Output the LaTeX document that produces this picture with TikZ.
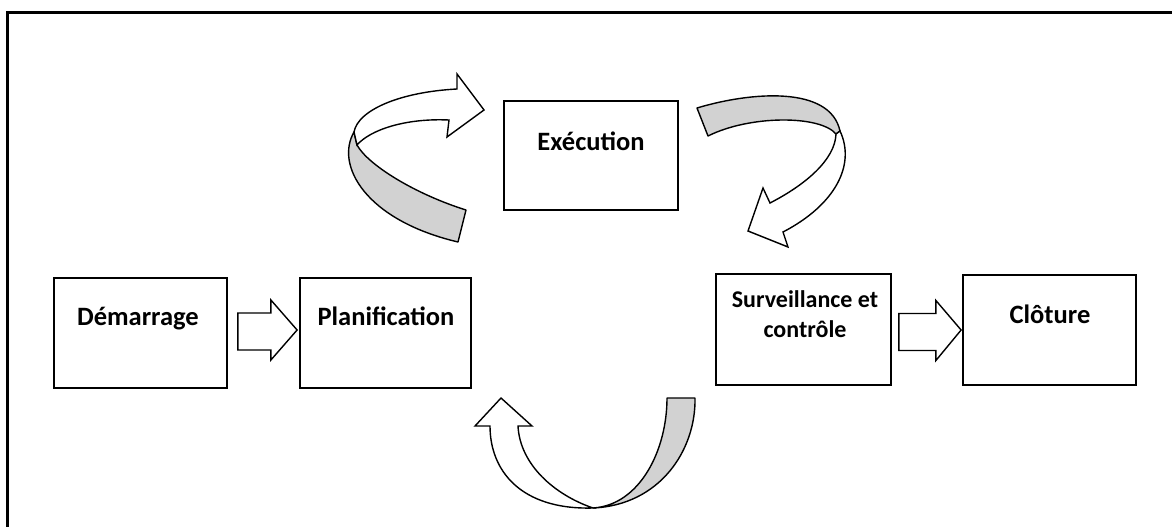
\documentclass[tikz,border=0pt]{standalone}
\usepackage{fontspec}
\setmainfont{Carlito}
\usetikzlibrary{calc}
\begin{document}
\begin{tikzpicture}[x=1pt,y=-1pt,
  box/.style={draw, line width=1.8pt, inner sep=0pt},
  lbl/.style={font=\fontsize{26.5}{30}\selectfont\bfseries, inner sep=0pt, anchor=base},
  smalllbl/.style={lbl, font=\fontsize{24}{30}\selectfont\bfseries},
  blockarrow/.style={draw, fill=white, line width=1.4pt, line join=miter},
  backband/.style={draw, fill=gray!35, line width=1.4pt, line join=round},
  frontband/.style={draw, fill=white, line width=1.4pt, line join=miter}]
\useasboundingbox (0,0) rectangle (1172,527);

% outer frame, running off the right and bottom edges
\draw[line width=2.5pt] (7.5,527) -- (7.5,12.5) -- (1172,12.5);

% process boxes
\node[box, minimum width=173pt, minimum height=110pt] (dem)  at (140.5,333)  {};
\node[box, minimum width=171pt, minimum height=110pt] (plan) at (385.5,333)  {};
\node[box, minimum width=174pt, minimum height=109pt] (exe)  at (591,155.5)  {};
\node[box, minimum width=175pt, minimum height=111pt] (surv) at (803.5,329.5) {};
\node[box, minimum width=173pt, minimum height=110pt] (clo)  at (1049.5,330) {};

% labels
\node[lbl] (demt)   at (138,325)   {Démarrage};
\node[lbl] (plant)  at (386,325)   {Planification};
\node[lbl] (exet)   at (591,150)   {Exécution};
\node[smalllbl] (survt1) at (805,307) {Surveillance et};
\node[smalllbl] (survt2) at (805,337) {contrôle};
\node[lbl] (clot)   at (1050,323)  {Clôture};

% straight block arrows
\draw[blockarrow] ($(dem.east)+(10,-20)$) -- ++(33,0) -- ++(0,-13)
  -- ($(plan.west)+(-2,-3)$) -- ($(dem.east)+(43,27)$) -- ++(0,-10)
  -- ($(dem.east)+(10,17)$) -- cycle;
\draw[blockarrow] ($(surv.east)+(7,-16)$) -- ++(37,0) -- ++(0,-13)
  -- ($(clo.west)+(-1,0)$) -- ($(surv.east)+(44,31)$) -- ++(0,-10)
  -- ($(surv.east)+(7,21)$) -- cycle;

% curved arrow from Planification up to Execution
\draw[backband] (466,210) .. controls (415,194) and (368,165) .. (357,145)
  -- (354,132) .. controls (335,165) and (365,220) .. (458,242) -- cycle;
\draw[frontband] (354,132) .. controls (358,110) and (400,92) .. (457,89)
  -- (457,74) -- (484,110) -- (447,137) -- (449,120)
  .. controls (405,118) and (370,130) .. (357,145) -- cycle;

% curved arrow from Execution down to Surveillance
\draw[backband] (697,108) .. controls (750,92) and (830,85) .. (840,131)
  -- (836,134) .. controls (820,115) and (750,115) .. (708,136) -- cycle;
\draw[frontband] (840,131) .. controls (856,165) and (835,205) .. (783,232)
  -- (788,247) -- (748,231) -- (763,188) -- (770,203)
  .. controls (805,185) and (835,160) .. (836,134) -- cycle;

% curved arrow from Surveillance back to Planification
\draw[backband] (667,398) -- (695,398) .. controls (696,450) and (660,505) .. (593,508)
  .. controls (640,505) and (667,450) .. (667,398) -- cycle;
\draw[frontband] (593,508) .. controls (520,510) and (490,470) .. (490,426)
  -- (475,426) -- (501,398) -- (532,426) -- (518,426)
  .. controls (520,465) and (555,495) .. (593,508) -- cycle;
\end{tikzpicture}
\end{document}
